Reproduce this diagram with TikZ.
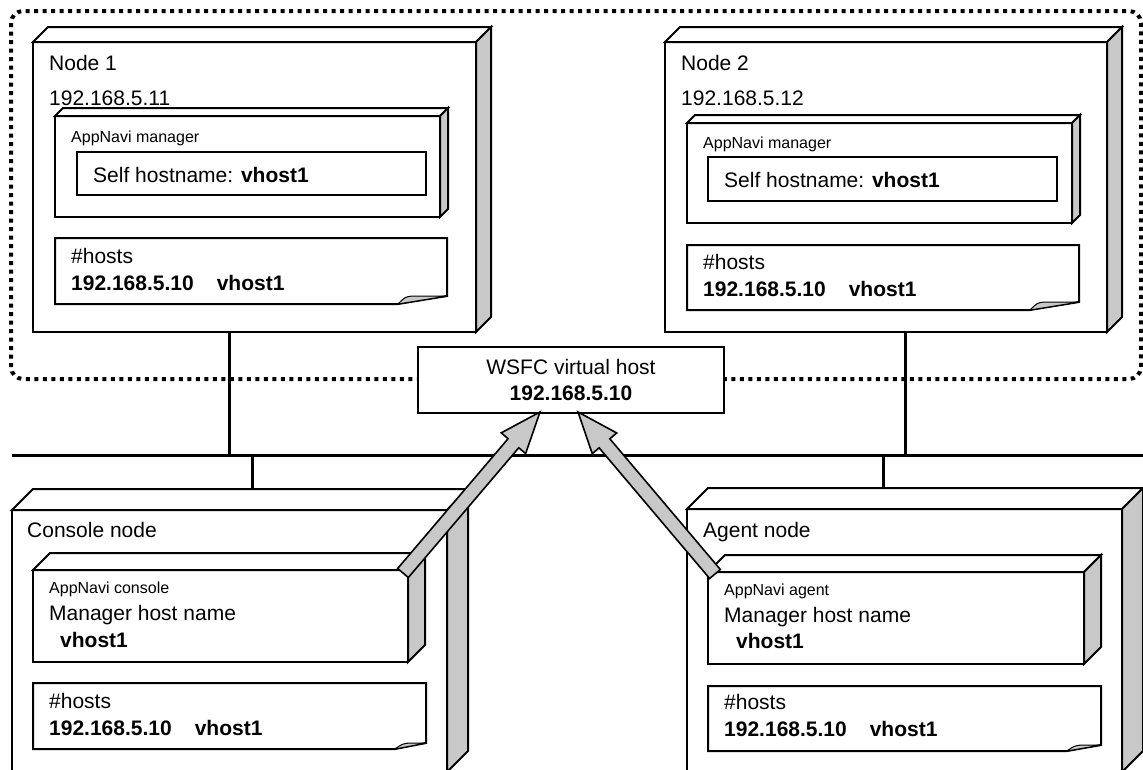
\documentclass[tikz,border=0pt]{standalone}
\usepackage{fontspec}
\setmainfont{Liberation Sans}
\usetikzlibrary{positioning,calc}
\definecolor{faceGray}{RGB}{200,200,200}

% top and side faces of a 3d box node
\newcommand\boxfaces[2]{%
  \draw[line width=2pt, fill=white] (#1.north west) -- ++(#2,-#2) -- ($(#1.north east)+(#2,-#2)$) -- (#1.north east) -- cycle;
  \draw[line width=2pt, fill=faceGray] (#1.north east) -- ++(#2,-#2) -- ($(#1.south east)+(#2,-#2)$) -- (#1.south east) -- cycle;
}
% note with folded corner
\newcommand\hostsnote[3]{%
  \draw[line width=2pt, fill=white] (#1.north west) -- (#1.north east) -- ($(#1.south east)+(0,-#3)$) -- ($(#1.south east)+(-#2,0)$) -- (#1.south west) -- cycle;
  \draw[line width=1pt, fill=faceGray] ($(#1.south east)+(-#2,0)$) .. controls ($(#1.south east)+(-#2+7,-#3+1)$) .. ($(#1.south east)+(-#2+14,-#3)$) -- ($(#1.south east)+(0,-#3)$) -- cycle;
}
% block arrow from tail to tip
\newcommand\blockarrow[2]{%
  \coordinate (#1-base) at ($(#2)!41pt!(#1)$);
  \draw[pipe] ($(#1)!7pt!90:(#2)$) -- ($(#1-base)!7pt!90:(#2)$) -- ($(#1-base)!16pt!90:(#2)$) -- (#2)
    -- ($(#1-base)!16pt!-90:(#2)$) -- ($(#1-base)!7pt!-90:(#2)$) -- ($(#1)!7pt!-90:(#2)$) -- cycle;
}

\begin{document}
\begin{tikzpicture}[x=1pt, y=-1pt,
    box/.style={draw, line width=2pt, fill=white, outer sep=0, inner sep=0, anchor=north west},
    note/.style={outer sep=0, inner sep=0, anchor=north west},
    txt/.style={anchor=base west, inner sep=0, font=\fontsize{21}{25}\selectfont},
    small/.style={txt, font=\fontsize{16}{19}\selectfont},
    wire/.style={line width=3pt},
    pipe/.style={draw, line width=1.6pt, fill=faceGray, line join=miter}
  ]
  \useasboundingbox (0,0) rectangle (1143,769);
  \clip (0,0) rectangle (1143,769);

  % cluster
  \draw[line width=4pt, dash pattern=on 4pt off 4.5pt, rounded corners=12pt] (11,11) rectangle (1141,379);

  % network
  \coordinate (busW) at (12,455);
  \coordinate (busE) at (1143,455);
  \coordinate (tap1) at (229,455);
  \coordinate (tap2) at (905,455);
  \coordinate (tap3) at (252,455);
  \coordinate (tap4) at (883,455);
  \draw[wire] (busW) -- (busE);

  % node 1
  \node[box, minimum width=443pt, minimum height=290pt] (node1) at (33,42) {};
  \boxfaces{node1}{15}
  \node[txt] (node1name) at ($(node1.north west)+(16,28)$) {Node 1};
  \node[txt] (node1ip) at ($(node1.north west)+(16,63)$) {192.168.5.11};
  \node[box, minimum width=385pt, minimum height=101pt] (mgr1) at (55,116) {};
  \boxfaces{mgr1}{8}
  \node[small] (mgr1name) at ($(mgr1.north west)+(16,26)$) {AppNavi manager};
  \node[box, minimum width=349pt, minimum height=43pt] (self1) at (77,152) {};
  \node[txt] (self1text) at ($(self1.north west)+(16,30)$) {Self hostname: \textbf{vhost1}};
  \node[note, minimum width=392pt, minimum height=66pt] (hosts1) at (55,238) {};
  \hostsnote{hosts1}{49}{8}
  \node[txt] (hosts1head) at ($(hosts1.north west)+(16,25)$) {\#hosts};
  \node[txt] (hosts1line) at ($(hosts1.north west)+(16,52)$) {\textbf{192.168.5.10}\hspace{23pt}\textbf{vhost1}};

  % node 2
  \node[box, minimum width=442pt, minimum height=290pt] (node2) at (665,42) {};
  \boxfaces{node2}{15}
  \node[txt] (node2name) at ($(node2.north west)+(16,28)$) {Node 2};
  \node[txt] (node2ip) at ($(node2.north west)+(16,63)$) {192.168.5.12};
  \node[box, minimum width=385pt, minimum height=100pt] (mgr2) at (687,123) {};
  \boxfaces{mgr2}{8}
  \node[small] (mgr2name) at ($(mgr2.north west)+(16,25)$) {AppNavi manager};
  \node[box, minimum width=349pt, minimum height=44pt] (self2) at (708,157) {};
  \node[txt] (self2text) at ($(self2.north west)+(16,30)$) {Self hostname: \textbf{vhost1}};
  \node[note, minimum width=392pt, minimum height=65pt] (hosts2) at (687,245) {};
  \hostsnote{hosts2}{49}{8}
  \node[txt] (hosts2head) at ($(hosts2.north west)+(16,24)$) {\#hosts};
  \node[txt] (hosts2line) at ($(hosts2.north west)+(16,51)$) {\textbf{192.168.5.10}\hspace{23pt}\textbf{vhost1}};

  % console node
  \node[box, minimum width=435pt, minimum height=262pt] (con) at (12,510) {};
  \boxfaces{con}{21}
  \node[txt] (conname) at ($(con.north west)+(15,27)$) {Console node};
  \node[box, minimum width=375pt, minimum height=92pt] (app3) at (33,570) {};
  \boxfaces{app3}{17}
  \node[small] (app3name) at ($(app3.north west)+(16,23)$) {AppNavi console};
  \node[txt] (app3key) at ($(app3.north west)+(16,50)$) {Manager host name};
  \node[txt] (app3val) at ($(app3.north west)+(27,77)$) {\textbf{vhost1}};
  \node[note, minimum width=393pt, minimum height=66pt] (hosts3) at (33,683) {};
  \hostsnote{hosts3}{31}{6}
  \node[txt] (hosts3head) at ($(hosts3.north west)+(16,25)$) {\#hosts};
  \node[txt] (hosts3line) at ($(hosts3.north west)+(16,52)$) {\textbf{192.168.5.10}\hspace{23pt}\textbf{vhost1}};

  % agent node
  \node[box, minimum width=435pt, minimum height=263pt] (agt) at (687,509) {};
  \boxfaces{agt}{21}
  \node[txt] (agtname) at ($(agt.north west)+(16,28)$) {Agent node};
  \node[box, minimum width=376pt, minimum height=92pt] (app4) at (708,572) {};
  \boxfaces{app4}{17}
  \node[small] (app4name) at ($(app4.north west)+(16,23)$) {AppNavi agent};
  \node[txt] (app4key) at ($(app4.north west)+(16,50)$) {Manager host name};
  \node[txt] (app4val) at ($(app4.north west)+(28,76)$) {\textbf{vhost1}};
  \node[note, minimum width=393pt, minimum height=65pt] (hosts4) at (708,686) {};
  \hostsnote{hosts4}{34}{6}
  \node[txt] (hosts4head) at ($(hosts4.north west)+(16,23)$) {\#hosts};
  \node[txt] (hosts4line) at ($(hosts4.north west)+(16,50)$) {\textbf{192.168.5.10}\hspace{23pt}\textbf{vhost1}};

  % links to the bus
  \draw[wire] (tap1 |- node1.south) -- (tap1);
  \draw[wire] (tap2 |- node2.south) -- (tap2);
  \draw[wire] (tap3) -- ($(tap3 |- con.north)+(0,-21)$);
  \draw[wire] (tap4) -- ($(tap4 |- agt.north)+(0,-21)$);

  % virtual host
  \node[box, anchor=center, align=center, minimum width=306pt, minimum height=66pt,
    font=\fontsize{21}{26}\selectfont] (wsfc) at (571,380) {WSFC virtual host\\\textbf{192.168.5.10}};

  % requests to the virtual host
  \coordinate (tailC) at ($(app3.north east)+(-5,3)$);
  \coordinate (tipC) at ($(wsfc.south)+(-31,-1)$);
  \coordinate (tailA) at ($(app4.north west)+(7,2)$);
  \coordinate (tipA) at ($(wsfc.south)+(7,-1)$);
  \blockarrow{tailC}{tipC}
  \blockarrow{tailA}{tipA}
\end{tikzpicture}
\end{document}
